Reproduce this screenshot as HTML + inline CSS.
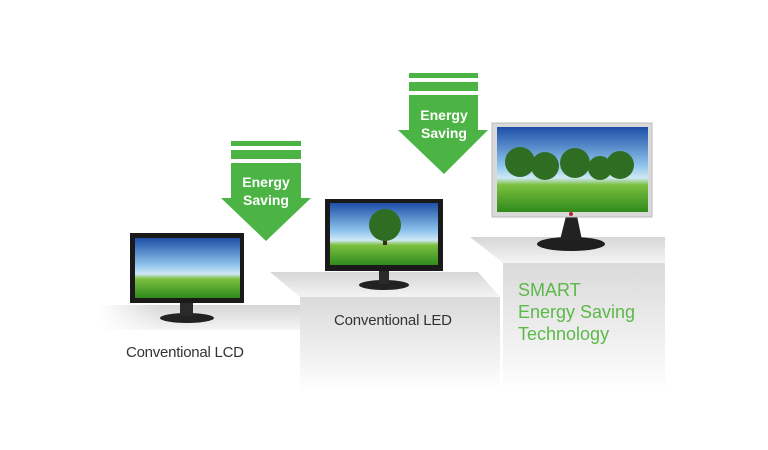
<!DOCTYPE html>
<html><head><style>
body{margin:0;background:#fff;}
svg{display:block;font-family:"Liberation Sans",sans-serif;}
</style></head><body>
<svg width="768" height="450" viewBox="0 0 768 450">
<defs>
<linearGradient id="fade" x1="0" y1="0" x2="0" y2="1">
<stop offset="0" stop-color="#dadada"/><stop offset="1" stop-color="#ffffff"/></linearGradient>
<linearGradient id="top" x1="0" y1="0" x2="0" y2="1">
<stop offset="0" stop-color="#d6d6d6"/><stop offset="1" stop-color="#f4f4f4"/></linearGradient>
<linearGradient id="scr" x1="0" y1="0" x2="0" y2="1">
<stop offset="0" stop-color="#1d4fa6"/><stop offset="0.45" stop-color="#8ec4ec"/><stop offset="0.6" stop-color="#cfe8f5"/><stop offset="0.68" stop-color="#7cc040"/><stop offset="1" stop-color="#2f8a1c"/></linearGradient>
<linearGradient id="fadeL" x1="0" y1="0" x2="1" y2="0">
<stop offset="0" stop-color="#fff" stop-opacity="1"/><stop offset="0.3" stop-color="#fff" stop-opacity="0"/></linearGradient>
</defs>
<rect x="100" y="305" width="200" height="25" fill="url(#top)"/>
<rect x="100" y="305" width="200" height="25" fill="url(#fadeL)"/>
<polygon points="270,272 478,272 500,297 300,297" fill="url(#top)"/>
<rect x="300" y="297" width="200" height="95" fill="url(#fade)"/>
<polygon points="470,237 665,237 665,263 503,263" fill="url(#top)"/>
<rect x="503" y="263" width="162" height="130" fill="url(#fade)"/>
<ellipse cx="187" cy="318" rx="27" ry="5" fill="#222"/>
<rect x="180" y="302" width="13" height="14" fill="#2a2a2a"/>
<rect x="130" y="233" width="114" height="70" fill="#1a1a1a"/>
<rect x="135" y="238" width="105" height="60" fill="url(#scr)"/>
<ellipse cx="384" cy="285" rx="25" ry="5" fill="#222"/>
<rect x="379" y="270" width="10" height="14" fill="#2a2a2a"/>
<rect x="325" y="199" width="118" height="72" fill="#1a1a1a"/>
<rect x="330" y="203" width="108" height="62" fill="url(#scr)"/>
<rect x="383" y="230" width="4" height="15" fill="#3a2a1a"/>
<circle cx="385" cy="225" r="16" fill="#2f6e22"/>
<ellipse cx="571" cy="244" rx="34" ry="7" fill="#1e1e1e"/>
<polygon points="566,216 577,216 582,240 560,240" fill="#222"/>
<rect x="492" y="123" width="160" height="94" fill="#d9d9d9" stroke="#bbb"/>
<rect x="497" y="127" width="151" height="85" fill="url(#scr)"/>
<g fill="#2f6e22">
<circle cx="520" cy="162" r="15"/><circle cx="545" cy="166" r="14"/><circle cx="575" cy="163" r="15"/><circle cx="600" cy="168" r="12"/><circle cx="620" cy="165" r="14"/>
</g>
<circle cx="571" cy="214" r="2" fill="#c0203a"/>
<g fill="#4cb445">
<rect x="231" y="141" width="70" height="5"/>
<rect x="231" y="150" width="70" height="9"/>
<rect x="231" y="163" width="70" height="36"/>
<polygon points="221,198 311,198 266,241"/>
<rect x="409" y="73" width="69" height="5"/>
<rect x="409" y="82" width="69" height="9"/>
<rect x="409" y="95" width="69" height="36"/>
<polygon points="398,130 488,130 444,174"/>
</g>
<g fill="#fff" font-weight="bold" font-size="14" text-anchor="middle">
<text x="266" y="187">Energy</text><text x="266" y="205">Saving</text>
<text x="444" y="120">Energy</text><text x="444" y="138">Saving</text>
</g>
<text x="126" y="357" font-size="15" fill="#333" textLength="118">Conventional LCD</text>
<text x="334" y="325" font-size="15" fill="#333" textLength="118">Conventional LED</text>
<g fill="#5cb848" font-size="18">
<text x="518" y="296">SMART</text>
<text x="518" y="318">Energy Saving</text>
<text x="518" y="340">Technology</text>
</g>
</svg>
</body></html>
